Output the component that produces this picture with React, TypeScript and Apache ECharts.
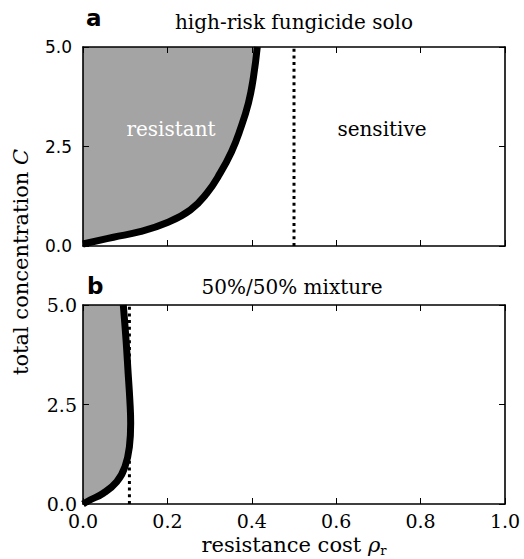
import React, { useEffect, useRef } from "react";
import * as echarts from "echarts";

// Panel a: high-risk fungicide solo (boundary curve)
const aX = [0, 0.072, 0.135, 0.2, 0.254, 0.293, 0.325, 0.352, 0.372, 0.392, 0.404, 0.413];
const aC = [0.05, 0.22, 0.36, 0.59, 0.9, 1.32, 1.83, 2.37, 2.91, 3.59, 4.25, 5.0];
const aThreshold = 0.5;

// Panel b: 50%/50% mixture (boundary curve)
const bX = [0, 0.0166, 0.048, 0.08, 0.0995, 0.11, 0.113, 0.111, 0.107, 0.102, 0.0955];
const bC = [0, 0.1, 0.27, 0.56, 0.94, 1.44, 2.03, 2.61, 3.28, 4.12, 5.0];
const bThreshold = 0.11;

const xTicks = [0, 0.2, 0.4, 0.6, 0.8, 1.0];
const yTicks = [0, 2.5, 5.0];

const SERIF = "DejaVu Serif";
const SANS = "DejaVu Sans";
const FILL = "#a4a4a4";

export default function App() {
  const ref = useRef<HTMLDivElement>(null);

  useEffect(() => {
    if (!ref.current) return;
    const chart = echarts.init(ref.current, undefined, { renderer: "svg" });

    const xMin = xTicks[0];
    const xMax = xTicks[xTicks.length - 1];
    const xInt = xTicks[1] - xTicks[0];
    const yMin = yTicks[0];
    const yMax = yTicks[yTicks.length - 1];
    const yInt = yTicks[1] - yTicks[0];

    const axisLine = { show: true, onZero: false, lineStyle: { color: "#000", width: 1.6 } };
    const axisTick = { show: true, inside: true, length: 6, lineStyle: { color: "#000", width: 1 } };

    const mkX = (gridIndex: number, position: string, showLabel: boolean) => ({
      type: "value",
      gridIndex,
      position,
      min: xMin,
      max: xMax,
      interval: xInt,
      axisLine,
      axisTick,
      splitLine: { show: false },
      z: 5,
      axisLabel: {
        show: showLabel,
        margin: 7,
        fontFamily: SERIF,
        fontSize: 19,
        color: "#000",
        formatter: (v: number) => v.toFixed(1),
      },
    });
    const mkY = (gridIndex: number, position: string, showLabel: boolean, font: string, size: number, margin: number) => ({
      type: "value",
      gridIndex,
      position,
      min: yMin,
      max: yMax,
      interval: yInt,
      axisLine,
      axisTick,
      splitLine: { show: false },
      z: 5,
      axisLabel: {
        show: showLabel,
        margin,
        fontFamily: font,
        fontSize: size,
        color: "#000",
        formatter: (v: number) => v.toFixed(1),
      },
    });

    const fillSeries = (xs: number[], cs: number[], axisIdx: number) => ({
      type: "custom",
      xAxisIndex: axisIdx,
      yAxisIndex: axisIdx,
      data: [[0, 0]],
      silent: true,
      z: 1,
      renderItem: (_params: any, api: any) => {
        const pts: number[][] = [[xMin, yMax], [xMin, yMin]];
        xs.forEach((x, i) => pts.push([x, cs[i]]));
        pts.push([xs[xs.length - 1], yMax]);
        return {
          type: "polygon",
          shape: { points: pts.map((p) => api.coord(p)) },
          style: { fill: FILL, stroke: null },
        };
      },
    });

    const curveSeries = (xs: number[], cs: number[], axisIdx: number) => ({
      type: "line",
      xAxisIndex: axisIdx,
      yAxisIndex: axisIdx,
      data: xs.map((x, i) => [x, cs[i]]),
      smooth: 0.45,
      showSymbol: false,
      symbol: "none",
      silent: true,
      z: 3,
      lineStyle: { color: "#000", width: 7, cap: "butt", join: "round" },
    });

    const dottedSeries = (x: number, axisIdx: number) => ({
      type: "line",
      xAxisIndex: axisIdx,
      yAxisIndex: axisIdx,
      data: [[x, yMin], [x, yMax]],
      showSymbol: false,
      symbol: "none",
      silent: true,
      z: 2,
      lineStyle: { color: "#000", width: 3, type: [3, 3.7] },
    });

    const option: any = {
      animation: false,
      backgroundColor: "#fff",
      grid: [
        { left: 83, top: 47, width: 422, height: 199, containLabel: false },
        { left: 83, top: 305, width: 422, height: 199, containLabel: false },
      ],
      xAxis: [
        mkX(0, "bottom", false),
        mkX(0, "top", false),
        mkX(1, "bottom", true),
        mkX(1, "top", false),
      ],
      yAxis: [
        mkY(0, "left", true, SANS, 17, 11),
        mkY(0, "right", false, SANS, 17, 11),
        mkY(1, "left", true, SERIF, 19, 6),
        mkY(1, "right", false, SERIF, 19, 6),
      ],
      series: [
        fillSeries(aX, aC, 0),
        dottedSeries(aThreshold, 0),
        curveSeries(aX, aC, 0),
        fillSeries(bX, bC, 2),
        dottedSeries(bThreshold, 2),
        curveSeries(bX, bC, 2),
      ],
      graphic: [
        {
          type: "text",
          left: 86,
          top: 6,
          style: { text: "a", font: `bold 23px "${SANS}"`, fill: "#000" },
        },
        {
          type: "text",
          x: 294,
          y: 22,
          style: { text: "high-risk fungicide solo", font: `20px "${SERIF}"`, fill: "#000", align: "center", verticalAlign: "middle" },
        },
        {
          type: "text",
          left: 87,
          top: 274,
          style: { text: "b", font: `bold 23px "${SANS}"`, fill: "#000" },
        },
        {
          type: "text",
          x: 292,
          y: 287,
          style: { text: "50%/50% mixture", font: `20px "${SERIF}"`, fill: "#000", align: "center", verticalAlign: "middle" },
        },
        {
          type: "text",
          x: 171,
          y: 129,
          z: 10,
          style: { text: "resistant", font: `20px "${SERIF}"`, fill: "#fff", align: "center", verticalAlign: "middle" },
        },
        {
          type: "text",
          x: 382,
          y: 129,
          z: 10,
          style: { text: "sensitive", font: `20px "${SERIF}"`, fill: "#000", align: "center", verticalAlign: "middle" },
        },
        {
          type: "text",
          x: 294,
          y: 545,
          style: {
            text: "{n|resistance cost }{i|ρ}{s|r}",
            align: "center",
            verticalAlign: "middle",
            rich: {
              n: { fontFamily: SERIF, fontSize: 21, lineHeight: 24, fill: "#000", verticalAlign: "middle" },
              i: { fontFamily: SERIF, fontStyle: "italic", fontSize: 21, lineHeight: 24, fill: "#000", verticalAlign: "middle" },
              s: { fontFamily: SERIF, fontSize: 13, lineHeight: 13, fill: "#000", verticalAlign: "bottom" },
            },
          },
        },
        {
          type: "text",
          x: 21,
          y: 262,
          rotation: Math.PI / 2,
          style: {
            text: "{n|total concentration }{i|C}",
            align: "center",
            verticalAlign: "middle",
            rich: {
              n: { fontFamily: SERIF, fontSize: 21, fill: "#000" },
              i: { fontFamily: SERIF, fontStyle: "italic", fontSize: 21, fill: "#000" },
            },
          },
        },
      ],
    };

    chart.setOption(option);
    return () => chart.dispose();
  }, []);

  return (
    <div
      ref={ref}
      style={{ position: "absolute", left: 0, top: 0, width: 524, height: 559 }}
    />
  );
}
